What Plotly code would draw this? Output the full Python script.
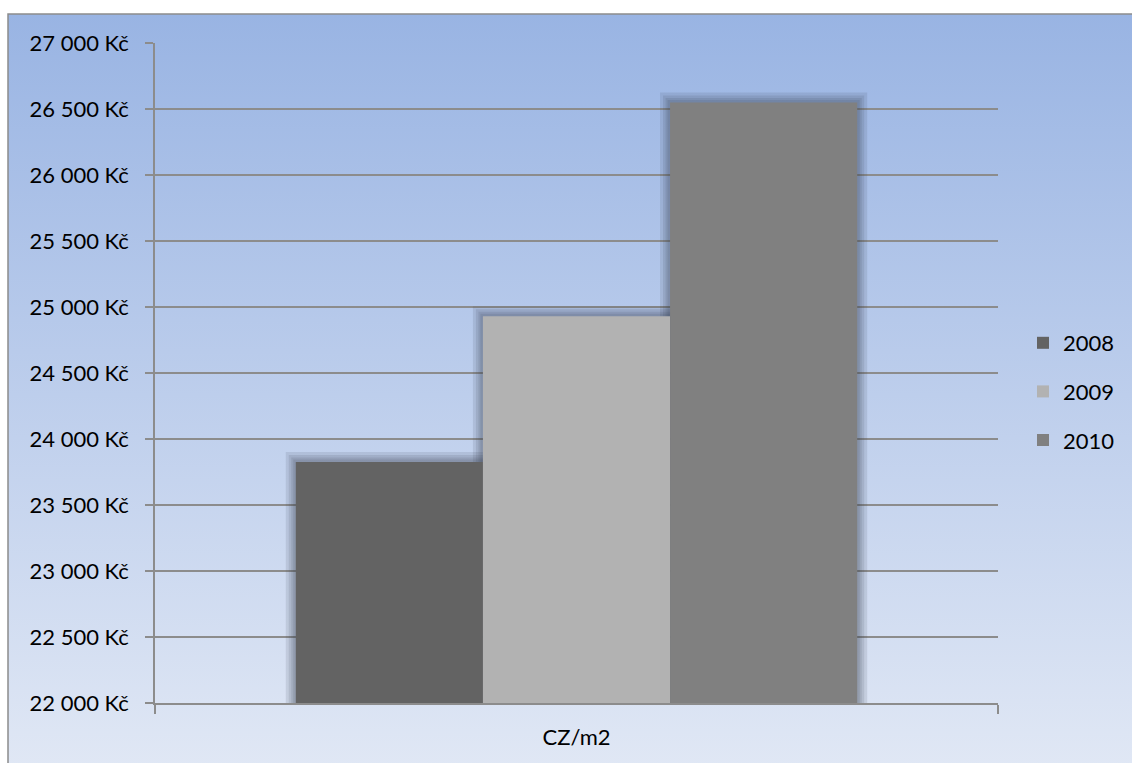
import plotly.graph_objects as go
import urllib.parse

categories = ["CZ/m2"]
years = ["2008", "2009", "2010"]
values = [23825, 24930, 26550]
colors = ["#636363", "#B2B2B2", "#808080"]
tick_vals = [22000, 22500, 23000, 23500, 24000, 24500, 25000, 25500, 26000, 26500, 27000]
tick_text = ["22 000 Kč", "22 500 Kč", "23 000 Kč", "23 500 Kč", "24 000 Kč", "24 500 Kč",
             "25 000 Kč", "25 500 Kč", "26 000 Kč", "26 500 Kč", "27 000 Kč"]

FONT = "Lato"
FS = 22

fig = go.Figure()
# soft shadow layers (same slots as real bars via offsetgroup)
for lw in [20, 14, 9, 5]:
    for yr, v in zip(years, values):
        fig.add_trace(go.Bar(
            x=categories, y=[v], name=yr, offsetgroup=yr, showlegend=False,
            hoverinfo="skip",
            marker=dict(color="rgba(0,0,0,0)", line=dict(width=lw, color="rgba(50,55,70,0.12)")),
        ))
for yr, v, c in zip(years, values, colors):
    fig.add_trace(go.Bar(
        x=categories, y=[v], name=yr, offsetgroup=yr,
        marker=dict(color=c, line=dict(width=0)),
        legendgroup=yr,
    ))

svg = ('<svg xmlns="http://www.w3.org/2000/svg" width="100" height="100" preserveAspectRatio="none">'
       '<defs><linearGradient id="g" x1="0" y1="0" x2="0" y2="1">'
       '<stop offset="0" stop-color="#99B4E3"/><stop offset="1" stop-color="#E1E8F5"/>'
       '</linearGradient></defs><rect width="100" height="100" fill="url(#g)"/></svg>')
src = "data:image/svg+xml;charset=utf-8," + urllib.parse.quote(svg)

W, H = 1132, 763
ml, mr, mt, mb = 155, 134, 43, 60
pw, ph = W - ml - mr, H - mt - mb
def px(x):
    return (x - ml) / pw
def py(y):
    return (H - mb - y) / ph

fig.update_layout(
    width=W, height=H,
    margin=dict(l=ml, r=mr, t=mt, b=mb, pad=0),
    paper_bgcolor="white",
    plot_bgcolor="rgba(0,0,0,0)",
    barmode="group",
    bargap=0.334,
    bargroupgap=0,
    font=dict(family=FONT, size=FS, color="black"),
    showlegend=True,
    legend=dict(x=px(1023), y=py(322), xanchor="left", yanchor="top",
                bgcolor="rgba(0,0,0,0)", tracegroupgap=17,
                font=dict(family=FONT, size=FS), itemwidth=30),
    images=[dict(source=src, xref="paper", yref="paper", x=px(8), y=py(14),
                 sizex=px(1140) - px(8), sizey=py(14) - py(775),
                 xanchor="left", yanchor="top", sizing="stretch", layer="below")],
    shapes=[dict(type="rect", xref="paper", yref="paper", x0=px(8), y0=py(775),
                 x1=px(1140), y1=py(14), line=dict(color="#8C8C8C", width=1.5),
                 fillcolor="rgba(0,0,0,0)", layer="below")],
    xaxis=dict(showgrid=False, showline=True, linecolor="#8C8C8C", linewidth=1.5,
               ticks="outside", ticklen=9, tickcolor="#8C8C8C", tickwidth=1.5,
               tickson="boundaries", ticklabelstandoff=14,
               tickfont=dict(family=FONT, size=FS)),
    yaxis=dict(range=[22000, 27000], tickvals=tick_vals, ticktext=tick_text,
               showgrid=True, gridcolor="#8C8C8C", gridwidth=1.5,
               showline=True, linecolor="#8C8C8C", linewidth=1.5,
               ticks="outside", ticklen=8, tickcolor="#8C8C8C", tickwidth=1.5,
               ticklabelstandoff=12, zeroline=False,
               tickfont=dict(family=FONT, size=FS)),
)

fig.write_html("out.html")
